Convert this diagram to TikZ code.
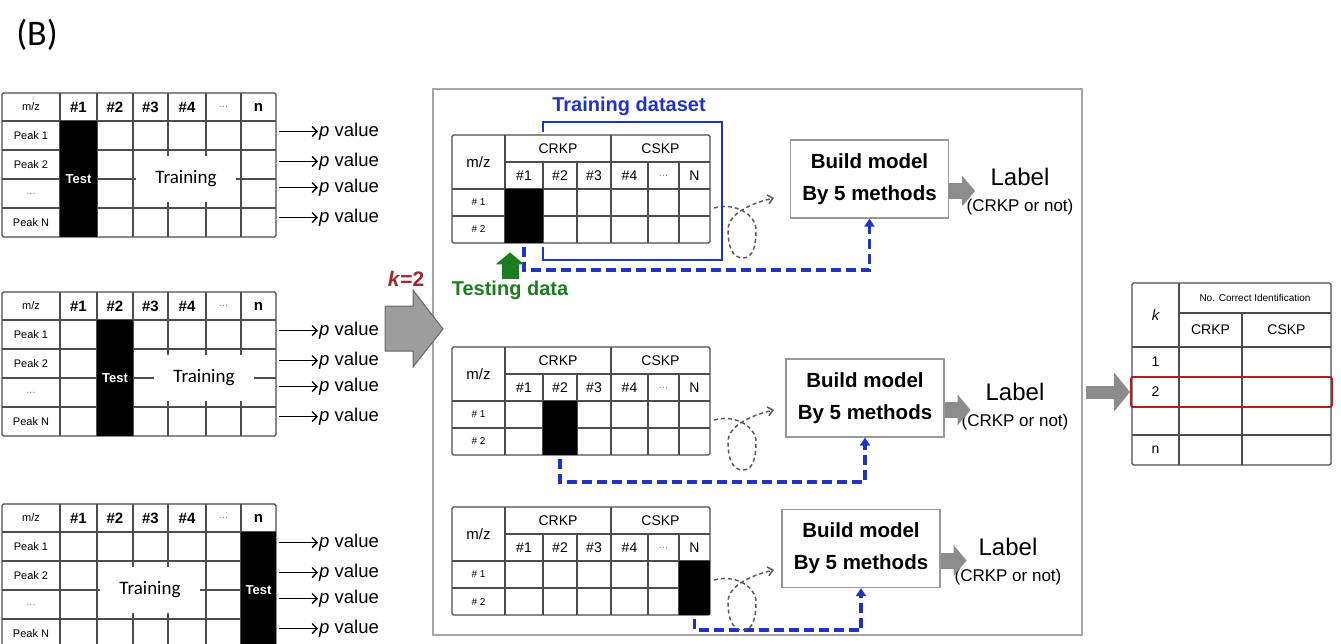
\documentclass[tikz,border=0pt]{standalone}
\usepackage{fontspec}
\setmainfont{Liberation Sans}
\newfontfamily\calibrifont{Carlito}
\usepackage{xcolor}
\usetikzlibrary{arrows.meta, positioning, calc}

\definecolor{gridgray}{HTML}{4D4D4D}
\definecolor{framegray}{HTML}{A6A6A6}
\definecolor{arrowgray}{HTML}{8C8C8C}
\definecolor{kred}{HTML}{A1262C}
\definecolor{setblue}{HTML}{1F33C4}
\definecolor{testgreen}{HTML}{1B7D1F}
\definecolor{boxred}{HTML}{C0171D}

\newcommand{\fsz}[1]{\fontsize{#1}{#1}\selectfont}

\begin{document}
\begin{tikzpicture}[
    x=1pt, y=-1pt,
    grid/.style={draw=gridgray, line width=1.1pt},
    cell/.style={inner sep=0pt, font=\fsz{11}},
    colhead/.style={inner sep=0pt, font=\fsz{15}\bfseries},
    groupcell/.style={inner sep=0pt, font=\fsz{14}},
    testtag/.style={inner sep=0pt, text=white, font=\fsz{13}\bfseries},
    traintag/.style={fill=white, inner xsep=19pt, inner ysep=0pt, minimum height=46pt, font=\calibrifont\fsz{19}},
    pval/.style={inner sep=1pt, font=\fsz{18.5}},
    parrow/.style={-{Straight Barb[length=5pt, width=10pt]}, line width=1.3pt},
    panel/.style={draw=framegray, line width=1.2pt, minimum width=649pt, minimum height=546pt},
    buildbox/.style={draw=gray!80, line width=1.2pt, fill=white, minimum width=158pt, minimum height=78pt, align=center, font={\fontsize{20.5}{32}\selectfont\bfseries}},
    lbl/.style={inner sep=0pt, font=\fsz{24}},
    lblsub/.style={inner sep=0pt, font=\fsz{17}},
    testflow/.style={-{Triangle[length=8pt, width=10pt]}, draw=setblue, line width=3.2pt, dash pattern=on 10pt off 5pt},
    loopflow/.style={-{Straight Barb[length=5pt, width=9pt]}, draw=gray!70!black, line width=1.5pt, dash pattern=on 4pt off 3pt},
    blockarrow/.style={draw=arrowgray, line width=16pt, -{Triangle[length=13pt, width=30pt]}},
    bigarrow/.style={draw=arrowgray, line width=13pt, -{Triangle[length=16pt, width=38pt]}},
    uparrow/.style={draw=testgreen, line width=17pt, -{Triangle[length=12pt, width=28pt]}},
]
    \useasboundingbox (0,0) rectangle (1341,643);
    \clip (0,0) rectangle (1341,643);

    \node[inner sep=0pt, font=\calibrifont\fsz{36}] (panelB) at (37,35) {(B)};

    % Leave-one-out tables
    \foreach \tn/\ty/\bl/\br/\tx in {a/93/60/97/186, b/292/97/133/204, c/504/241/276/150}{
        \foreach \x in {60,97,133,168,206,241}
            \draw[grid] (\x,\ty) -- (\x,\ty+144);
        \foreach \r in {28,57,86,115}
            \draw[grid] (2,\ty+\r) -- (276,\ty+\r);
        \draw[grid, rounded corners=1.5pt] (2,\ty) rectangle (276,\ty+144);
        \fill (\bl,\ty+28) rectangle (\br,\ty+144);
        \node[testtag] (L\tn-test) at ({(\bl+\br)/2},\ty+86) {Test};
        \node[traintag] (L\tn-train) at (\tx,\ty+86) {Training};
        \node[cell] (L\tn-mz) at (31,\ty+14) {m/z};
        \foreach \h/\hx [count=\i] in {\#1/78.5, \#2/115, \#3/150.5, \#4/187, {\fsz{11}\mdseries\textcolor{gray}{...}}/223.5, n/258.5}
            \node[colhead] (L\tn-h\i) at (\hx,\ty+14) {\h};
        \foreach \rl [count=\i] in {Peak 1, Peak 2, \textcolor{gray}{...}, Peak N}
            \node[cell] (L\tn-r\i) at (31,{\ty+14+29*\i}) {\rl};
        % p values per peak
        \foreach \py [count=\i] in {38.5,68.5,94.5,124.5}{
            \coordinate (L\tn-c\i) at (279,\ty+\py);
            \node[pval, anchor=west] (L\tn-p\i) at (318,\ty+\py) {\textit{p} value};
            \draw[parrow] (L\tn-c\i) -- (L\tn-p\i.west);
        }
    }

    % Cross-validation frame
    \node[panel] (panel) at (757.5,362) {};

    \foreach \tn/\ty/\bl/\br/\dd/\bx/\by/\lx/\ly in {a/135/505/543/23/869.5/179/1020/177, b/347/543/577/23/865/398/1015/392, c/507/679/710/11/861/548.5/1008/547}{
        \draw[grid] (505,\ty) -- (505,\ty+108);
        \draw[grid] (611,\ty) -- (611,\ty+108);
        \foreach \x in {543,577,648,679}
            \draw[grid] (\x,\ty+27) -- (\x,\ty+108);
        \draw[grid] (505,\ty+27) -- (710,\ty+27);
        \foreach \r in {54,81}
            \draw[grid] (452,\ty+\r) -- (710,\ty+\r);
        \draw[grid, rounded corners=1.5pt] (452,\ty) rectangle (710,\ty+108);
        \fill (\bl,\ty+54) rectangle (\br,\ty+108);
        \node[groupcell, font=\fsz{15}] (M\tn-mz) at (478.5,\ty+27) {m/z};
        \node[groupcell] (M\tn-crkp) at (558,\ty+13.5) {CRKP};
        \node[groupcell] (M\tn-cskp) at (660.5,\ty+13.5) {CSKP};
        \foreach \h/\hx [count=\i] in {\#1/524, \#2/560, \#3/594, \#4/629.5, {\fsz{11}\textcolor{gray}{...}}/663.5, N/694.5}
            \node[groupcell] (M\tn-h\i) at (\hx,\ty+40.5) {\h};
        \node[cell, font=\fsz{10}] (M\tn-s1) at (478.5,\ty+67.5) {\# 1};
        \node[cell, font=\fsz{10}] (M\tn-s2) at (478.5,\ty+94.5) {\# 2};

        % Model and its output
        \node[buildbox] (M\tn-build) at (\bx,\by) {Build model\\By 5 methods};
        \node[lbl] (M\tn-label) at (\lx,\ly) {Label};
        \node[lblsub] (M\tn-sub) at (\lx,\ly+30) {(CRKP or not)};
        \draw[blockarrow] ([yshift=-12pt]M\tn-build.east) -- ++(26,0);

        % Held-out sample to the model
        \coordinate (M\tn-blk) at ({(\bl+\br)/2},\ty+112);
        \draw[testflow] (M\tn-blk) -- ++(0,\dd) -| (M\tn-build.south);

        % Repeat loop
        \coordinate (M\tn-loop) at (714,\ty+73);
        \draw[loopflow] (M\tn-loop) .. controls +(20,-6) and +(0,-16) .. ++(42,22)
            .. controls +(0,16) and +(10,0) .. ++(-13,28)
            .. controls +(-11,0) and +(0,16) .. ++(-15,-28)
            .. controls +(0,-18) and +(-18,4) .. ++(46,-32);
    }

    % Training / testing annotation
    \draw[setblue, line width=1.8pt] (543,132) -- (543,122) -- (722,122) -- (722,260) -- (543,260) -- (543,247);
    \node[inner sep=0pt, text=setblue, font=\fsz{20}\bfseries] (trainlbl) at (629,106) {Training dataset};
    \node[inner sep=1pt, text=testgreen, font=\fsz{20}\bfseries] (testlbl) at (510,290) {Testing data};
    \draw[uparrow] (testlbl.north) -- ++(0,-27);

    % k arrow
    \coordinate (kbase) at (385,329);
    \filldraw[fill=arrowgray!85!white, draw=gray!80!black, line width=1pt] (kbase) ++(0,-23) -- ++(28,0) -- ++(0,-16) -- ++(30,39) -- ++(-30,38) -- ++(0,-16) -- ++(-28,0) -- cycle;
    \node[inner sep=0pt, text=kred, font=\fsz{21}\bfseries] (klbl) at (406,279) {\textit{k}=2};

    % Summary table
    \draw[grid] (1179,283) -- (1179,465);
    \draw[grid] (1242,313) -- (1242,465);
    \draw[grid] (1179,313) -- (1331,313);
    \foreach \r in {347,377,407,435}
        \draw[grid] (1132,\r) -- (1331,\r);
    \draw[grid, rounded corners=1.5pt] (1132,283) rectangle (1331,465);
    \node[groupcell, font=\fsz{15}\itshape] (kcol) at (1155.5,315) {k};
    \node[cell, font=\fsz{10}] (ncorrect) at (1255,298) {No. Correct Identification};
    \node[groupcell] (scrkp) at (1210.5,330) {CRKP};
    \node[groupcell] (scskp) at (1286.5,330) {CSKP};
    \node[groupcell] (kone) at (1155.5,362) {1};
    \node[groupcell] (ktwo) at (1155.5,392) {2};
    \node[groupcell] (kn) at (1155.5,450) {n};
    \node[draw=boxred, line width=1.8pt, rounded corners=2pt, minimum width=201pt, minimum height=30pt, inner sep=0pt] (rowtwo) at (1231.5,392) {};
    \draw[bigarrow, shorten <=3pt] (panel.east |- rowtwo.west) -- (rowtwo.west);

\end{tikzpicture}
\end{document}
